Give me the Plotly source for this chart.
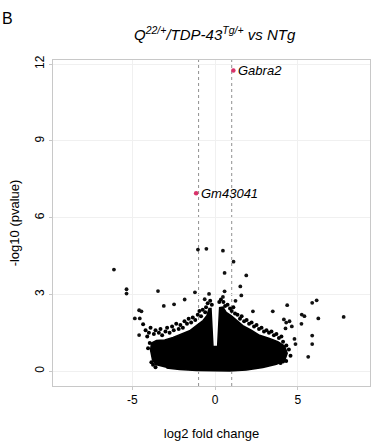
import plotly.graph_objects as go

# ---- data ----
# dense core of genes (outline of the solid mass), log2FC / -log10 p
core_x = [-3.54, -3.78, -3.90, -3.84, -3.54, -3.04, -2.54, -2.04, -1.54, -1.13, -0.73, -0.49, -0.37, -0.25,
          -0.19, -0.13, 0.15, 0.21, 0.27, 0.47, 0.67, 0.98, 1.28, 1.67, 2.18, 2.68, 3.28, 3.78, 4.19, 4.35,
          4.19, 3.69, 2.88, 1.88, 0.87, -0.13, -1.13, -2.14, -2.94]
core_y = [0.22, 0.44, 0.83, 1.10, 1.20, 1.22, 1.32, 1.45, 1.58, 1.78, 1.98, 2.18, 2.45, 2.45,
          1.67, 0.96, 0.96, 1.80, 2.48, 2.50, 2.30, 2.16, 1.98, 1.78, 1.60, 1.40, 1.28, 1.15, 0.98, 0.70,
          0.40, 0.27, 0.14, 0.05, 0.01, 0.01, 0.03, 0.06, 0.12]

# genes on the fringe of the dense mass
fringe_x = [-4.35, -4.2, -4.1, -4.0, -3.95, -4.05, -3.9, -3.7, -3.6, -3.4, -3.3, -3.2, -3.0, -2.9, -2.75,
            -2.6, -2.5, -2.35, -2.2, -2.1, -1.95, -1.85, -1.7, -1.6, -1.45, -1.35, -1.2, -1.05, -0.95, -0.85,
            -0.75, -0.6, -0.55, -0.45, -0.3, -0.2, 0.25, 0.35, 0.5, 0.6, 0.75, 0.9, 1.0, 1.1, 1.2, 1.35, 1.5,
            1.6, 1.75, 1.9, 2.05, 2.2, 2.35, 2.5, 2.65, 2.8, 2.95, 3.1, 3.25, 3.4, 3.55, 3.7, 3.85, 4.0, 4.1,
            4.3, 4.45, 4.55, 4.0, 3.9, 4.29, 4.1, 3.95, -3.85, -3.75, -3.6]
fringe_y = [1.83, 1.6, 1.35, 1.5, 1.1, 0.9, 1.7, 1.45, 1.6, 1.5, 1.65, 1.4, 1.55, 1.7, 1.5,
            1.75, 1.6, 1.85, 1.65, 1.8, 1.7, 1.95, 1.85, 2.05, 1.9, 2.1, 2.0, 2.2, 2.35, 2.15,
            2.4, 2.3, 2.5, 2.65, 2.75, 2.6, 2.7, 2.8, 2.7, 2.55, 2.6, 2.45, 2.35, 2.5, 2.25, 2.2, 2.05,
            2.15, 1.95, 2.0, 1.85, 1.9, 1.75, 1.8, 1.65, 1.7, 1.55, 1.6, 1.5, 1.55, 1.4, 1.45, 1.3, 1.35, 1.15,
            1.0, 0.85, 0.6, 0.45, 0.35, 0.40, 0.38, 0.32, 0.35, 0.25, 0.15]

# scattered outlier genes
out_x = [-6.11, -5.35, -5.35, -3.45, -4.59, -4.45, -4.85, -4.55, -4.59, -3.1, -2.48, -1.84, -1.22, -0.63,
         -0.37, -1.04, -0.53, 0.47, 1.11, 0.57, 1.88, 1.52, 0.57, 1.58, 1.23, 0.47, 2.28, 3.48, 4.35, 5.86,
         6.13, 7.76, 5.23, 5.39, 6.23, 5.21, 4.15, 4.29, 4.49, 4.63, 4.25, 5.86, 5.86, 4.85, 4.79, 5.62]
out_y = [3.97, 3.2, 3.03, 3.13, 2.38, 2.34, 2.06, 2.06, 1.41, 2.55, 2.61, 2.80, 3.08, 2.81,
         3.02, 4.75, 4.78, 4.71, 4.28, 3.84, 3.74, 3.31, 3.12, 2.96, 2.75, 2.90, 2.34, 2.34, 2.58, 2.67,
         2.77, 2.12, 2.21, 2.15, 2.06, 1.85, 2.02, 1.90, 1.95, 1.75, 1.67, 1.39, 1.06, 1.06, 1.26, 0.56]

# highlighted genes
sig_genes = ["Gabra2", "Gm43041"]
sig_x = [1.10, -1.15]
sig_y = [11.75, 6.95]

fc_threshold = [-1, 1]
x_ticks = [-5, 0, 5]
y_ticks = [0, 3, 6, 9, 12]

FONT = "Liberation Sans, Arial, sans-serif"

fig = go.Figure()

fig.add_trace(go.Scatter(x=core_x, y=core_y, mode="lines", fill="toself",
                         fillcolor="black", line=dict(color="black", width=1.5),
                         hoverinfo="skip", showlegend=False))
fig.add_trace(go.Scatter(x=fringe_x, y=fringe_y, mode="markers",
                         marker=dict(color="black", size=4), showlegend=False))
fig.add_trace(go.Scatter(x=out_x, y=out_y, mode="markers",
                         marker=dict(color="#111111", size=3.8), showlegend=False))
fig.add_trace(go.Scatter(x=sig_x, y=sig_y, mode="markers",
                         marker=dict(color="#d9336a", size=4.5), showlegend=False))

for g, gx, gy in zip(sig_genes, sig_x, sig_y):
    fig.add_annotation(x=gx, y=gy, text="<i>" + g + "</i>", showarrow=False,
                       xanchor="left", yanchor="middle", xshift=3,
                       font=dict(family=FONT, size=13, color="black"))

for t in fc_threshold:
    fig.add_shape(type="line", x0=t, x1=t, y0=0, y1=1, xref="x", yref="paper",
                  line=dict(color="#909090", width=1, dash="dot"), layer="below")

fig.add_annotation(x=0.51, y=1.0, xref="paper", yref="paper", yshift=27,
                   text="<i>Q<sup>22/+</sup>/TDP-43<sup>Tg/+</sup> vs NTg</i>",
                   showarrow=False, xanchor="center", yanchor="middle",
                   font=dict(family=FONT, size=15, color="black"))
fig.add_annotation(x=0, y=1.0, xref="paper", yref="paper", xshift=-53, yshift=42,
                   text="B", showarrow=False, xanchor="left", yanchor="middle",
                   font=dict(family=FONT, size=16, color="black"))

fig.update_xaxes(range=[-9.79, 9.35], tickvals=x_ticks, ticktext=[str(v) for v in x_ticks],
                 showgrid=True, gridcolor="#f0f0f0", gridwidth=1, zeroline=False,
                 showline=True, linecolor="#c8c8c8", mirror=True, linewidth=1,
                 ticks="outside", ticklen=3, tickcolor="#c8c8c8",
                 tickfont=dict(family=FONT, size=12, color="black"),
                 title=dict(text="log2 fold change", font=dict(family=FONT, size=13, color="black"),
                            standoff=22))
fig.update_yaxes(range=[-0.58, 12.16], tickvals=y_ticks, ticktext=[str(v) for v in y_ticks],
                 tickangle=-90,
                 showgrid=True, gridcolor="#f0f0f0", gridwidth=1, zeroline=False,
                 showline=True, linecolor="#c8c8c8", mirror=True, linewidth=1,
                 ticks="outside", ticklen=3, tickcolor="#c8c8c8",
                 tickfont=dict(family=FONT, size=12, color="black"),
                 title=dict(text="-log10 (pvalue)", font=dict(family=FONT, size=13, color="black"),
                            standoff=10))

fig.update_layout(width=376, height=444, margin=dict(l=53, r=5, t=60, b=56),
                  plot_bgcolor="white", paper_bgcolor="white", showlegend=False)

fig.write_html("out.html")
